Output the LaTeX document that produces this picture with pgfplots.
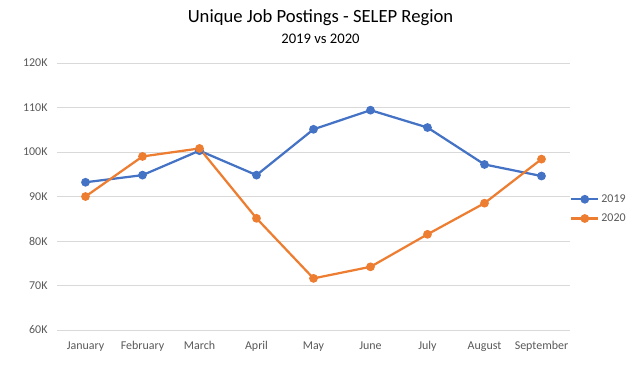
\documentclass[border=0pt]{standalone}
\usepackage{pgfplots}
\pgfplotsset{compat=1.18}
\usepackage{fontspec}
\setmainfont{Carlito}
\definecolor{blue19}{HTML}{4472C4}
\definecolor{orange20}{HTML}{ED7D31}
\definecolor{gridc}{HTML}{D9D9D9}
\definecolor{tickc}{HTML}{595959}
\begin{document}
\begin{tikzpicture}
\path[use as bounding box] (-57bp,-40bp) rectangle (581bp,330bp);
\begin{axis}[
  at={(0,0)}, anchor=south west,
  scale only axis, width=513bp, height=267bp,
  xmin=-0.5, xmax=8.5, ymin=60, ymax=120,
  xtick=data,
  xticklabels={January,February,March,April,May,June,July,August,September},
  ytick={60,70,80,90,100,110,120},
  yticklabel={\pgfmathprintnumber{\tick}K},
  /pgf/number format/assume math mode=true,
  major tick length=0pt,
  axis line style={draw=none},
  ymajorgrids, grid style={gridc, line width=0.75bp},
  tick label style={font=\fontsize{12}{14}\selectfont, text=tickc},
  xticklabel style={yshift=-8bp},
  yticklabel style={xshift=-6bp},
  legend style={at={(1.0,0.4536)}, anchor=west, draw=none, fill=none,
    font=\fontsize{12}{14}\selectfont, text=tickc, row sep=6bp, inner sep=0pt},
  legend cell align=left,
  legend image code/.code={\draw[mark repeat=2,mark phase=2] plot coordinates {(0bp,0bp)(13.5bp,0bp)(27bp,0bp)};},
]
\addplot[blue19, line width=2.25pt, mark=*, mark size=3.2bp, mark options={fill=blue19}] coordinates {
(0,93.2)(1,94.8)(2,100.3)(3,94.8)(4,105.1)(5,109.4)(6,105.5)(7,97.2)(8,94.6)};
\addlegendentry{2019}
\addplot[orange20, line width=2.25pt, mark=*, mark size=3.2bp, mark options={fill=orange20}] coordinates {
(0,90.0)(1,99.0)(2,100.8)(3,85.1)(4,71.6)(5,74.2)(6,81.5)(7,88.5)(8,98.4)};
\addlegendentry{2020}
\end{axis}
\node[anchor=base, font=\fontsize{18.7}{22}\selectfont] at (263.5bp,307bp) {Unique Job Postings - SELEP Region};
\node[anchor=base, font=\fontsize{14.7}{17}\selectfont] at (263.5bp,286bp) {2019 vs 2020};
\end{tikzpicture}
\end{document}
